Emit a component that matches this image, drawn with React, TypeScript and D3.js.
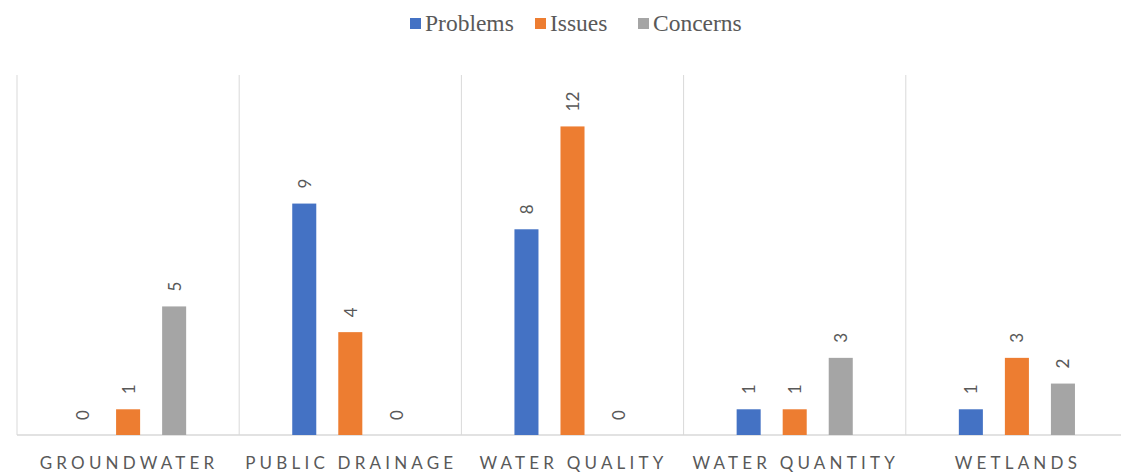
import React, { useEffect, useRef } from "react";
import * as d3 from "d3";

const categories = ["GROUNDWATER", "PUBLIC DRAINAGE", "WATER QUALITY", "WATER QUANTITY", "WETLANDS"];
const seriesNames = ["Problems", "Issues", "Concerns"];
const problems = [0, 9, 8, 1, 1];
const issues = [1, 4, 12, 1, 3];
const concerns = [5, 0, 0, 3, 2];
const colors = ["#4472C4", "#ED7D31", "#A5A5A5"];

const W = 1121;
const H = 473;

export default function App() {
  const ref = useRef<SVGSVGElement>(null);

  useEffect(() => {
    document.body.style.margin = "0";
    const svg = d3.select(ref.current);
    svg.selectAll("*").remove();

    const left = 17;
    const right = 1128;
    const top = 75;
    const bottom = 435;

    const x = d3.scaleBand<string>().domain(categories).range([left, right]).padding(0);
    const inner = d3.scaleBand<string>().domain(seriesNames).range([0, x.bandwidth()]).paddingInner(0.478).paddingOuter(1.152);
    const y = d3.scaleLinear().domain([0, 14]).range([bottom, top]);

    const g = svg.append("g");

    const seps = d3.range(categories.length + 1).map((i) => left + i * x.bandwidth());
    g.selectAll("line.sep")
      .data(seps)
      .join("line")
      .attr("x1", (d) => d)
      .attr("x2", (d) => d)
      .attr("y1", top)
      .attr("y2", bottom)
      .attr("stroke", "#d9d9d9")
      .attr("stroke-width", 1);

    g.append("line")
      .attr("x1", left)
      .attr("x2", right)
      .attr("y1", y(0))
      .attr("y2", y(0))
      .attr("stroke", "#d9d9d9")
      .attr("stroke-width", 1.5);

    const allSeries = [problems, issues, concerns];
    const data = categories.flatMap((c, ci) =>
      seriesNames.map((s, si) => ({ c, s, si, v: allSeries[si][ci] }))
    );

    g.selectAll("rect.bar")
      .data(data)
      .join("rect")
      .attr("x", (d) => (x(d.c) as number) + (inner(d.s) as number))
      .attr("width", inner.bandwidth())
      .attr("y", (d) => y(d.v))
      .attr("height", (d) => y(0) - y(d.v))
      .attr("fill", (d) => colors[d.si]);

    g.selectAll("text.val")
      .data(data)
      .join("text")
      .attr("transform", (d) => {
        const cx = (x(d.c) as number) + (inner(d.s) as number) + inner.bandwidth() / 2;
        const cy = y(d.v) - 15;
        return `translate(${cx},${cy}) rotate(-90)`;
      })
      .attr("text-anchor", "start")
      .attr("dominant-baseline", "central")
      .attr("font-family", "Lato, 'Open Sans', sans-serif")
      .attr("font-size", 17)
      .attr("fill", "#595959")
      .text((d) => String(d.v));

    g.selectAll("text.cat")
      .data(categories)
      .join("text")
      .attr("x", (d) => (x(d) as number) + x.bandwidth() / 2 + 1)
      .attr("y", 469)
      .attr("text-anchor", "middle")
      .attr("font-family", "Lato, 'Open Sans', sans-serif")
      .attr("font-size", 17)
      .attr("letter-spacing", 4.2)
      .attr("fill", "#595959")
      .text((d) => d);

    const legendX = [410, 535, 638];
    const lg = svg.append("g");
    seriesNames.forEach((s, i) => {
      lg.append("rect")
        .attr("x", legendX[i])
        .attr("y", 18)
        .attr("width", 11)
        .attr("height", 11)
        .attr("fill", colors[i]);
      lg.append("text")
        .attr("x", legendX[i] + 15)
        .attr("y", 31)
        .attr("font-family", "'Liberation Serif', 'Times New Roman', serif")
        .attr("font-size", 23.5)
        .attr("fill", "#595959")
        .text(s);
    });
  }, []);

  return <svg ref={ref} width={W} height={H} style={{ display: "block", background: "#fff" }} />;
}
